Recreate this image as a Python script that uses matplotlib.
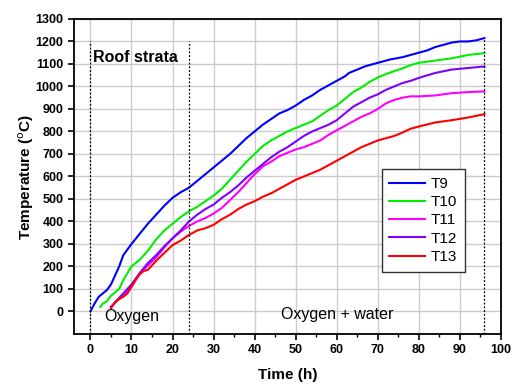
import matplotlib
matplotlib.use('Agg')
import matplotlib.pyplot as plt
from matplotlib.ticker import MultipleLocator

plt.rcParams['font.family'] = ['Liberation Sans', 'DejaVu Sans']

# T9
t9_x = [0, 1, 2, 3, 4, 5, 6, 7, 8, 9, 10, 12, 14, 16, 18, 20, 22, 24, 26, 28, 30,
        32, 34, 36, 38, 40, 42, 44, 46, 48, 50, 52, 54, 56, 58, 60, 62, 63, 65, 67,
        70, 73, 76, 78, 80, 82, 84, 86, 88, 90, 92, 94, 96]
t9_y = [0, 35, 65, 80, 95, 120, 160, 200, 250, 275, 300, 345, 390, 430, 470, 505,
        530, 550, 580, 610, 640, 670, 700, 735, 770, 800, 830, 855, 880, 895, 915,
        940, 960, 985, 1005, 1025, 1045, 1060, 1075, 1090, 1105, 1120, 1130, 1140,
        1150, 1160, 1175, 1185, 1195, 1200, 1200, 1205, 1215]

# T10
t10_x = [2.4, 3, 4, 5, 6, 7, 8, 9, 10, 11, 12, 14, 16, 18, 20, 22, 24, 26, 28, 30,
         32, 34, 36, 38, 40, 42, 44, 46, 48, 50, 52, 54, 56, 58, 60, 62, 64, 66, 68,
         70, 72, 74, 76, 78, 80, 84, 88, 92, 96]
t10_y = [20, 35, 45, 70, 85, 100, 140, 170, 200, 215, 230, 270, 320, 360, 390, 420,
         445, 465, 490, 515, 545, 585, 625, 665, 700, 735, 760, 780, 800, 815, 830,
         845, 870, 895, 915, 945, 975, 995, 1020, 1040, 1055, 1068, 1080, 1095, 1105,
         1115, 1125, 1140, 1148]

# T11
t11_x = [5, 6, 7, 8, 9, 10, 12, 14, 16, 18, 20, 22, 24, 26, 28, 30, 32, 34, 36, 38,
         40, 42, 44, 46, 48, 50, 52, 54, 56, 58, 60, 62, 64, 66, 68, 70, 72, 74, 76,
         78, 80, 84, 88, 92, 96]
t11_y = [20, 40, 60, 75, 90, 110, 170, 205, 240, 285, 325, 355, 380, 400, 415, 435,
         460, 495, 530, 570, 610, 645, 665, 690, 705, 720, 730, 745, 760, 785, 805,
         825, 845, 865, 880, 900, 925, 940, 950, 956, 956, 960, 970, 975, 978]

# T12
t12_x = [5, 6, 7, 8, 9, 10, 12, 14, 16, 18, 20, 22, 24, 26, 28, 30, 32, 34, 36, 38,
         40, 42, 44, 46, 48, 50, 52, 54, 56, 58, 60, 62, 64, 66, 68, 70, 72, 74, 76,
         78, 80, 84, 88, 92, 96]
t12_y = [20, 40, 60, 80, 100, 120, 170, 215, 250, 290, 325, 360, 400, 430, 455, 475,
         505, 530, 560, 595, 625, 655, 685, 710, 730, 755, 780, 800, 815, 830, 850,
         880, 910, 930, 950, 965, 985, 1000, 1015, 1025, 1038, 1060, 1075, 1082, 1089]

# T13
t13_x = [5, 6, 7, 8, 9, 10, 11, 12, 13, 14, 15, 16, 18, 20, 22, 24, 26, 28, 30, 32,
         34, 36, 38, 40, 42, 44, 46, 48, 50, 52, 54, 56, 58, 60, 62, 64, 66, 68, 70,
         72, 74, 76, 78, 80, 84, 88, 92, 96]
t13_y = [15, 40, 55, 65, 80, 110, 140, 165, 180, 185, 205, 225, 260, 295, 315, 340,
         360, 370, 385, 410, 430, 455, 475, 490, 510, 525, 545, 565, 585, 600, 615,
         630, 650, 670, 690, 710, 730, 745, 760, 770, 780, 795, 812, 822, 840, 850,
         862, 877]

series = [('T9', t9_x, t9_y, '#0000ff'),
          ('T10', t10_x, t10_y, '#00ee00'),
          ('T11', t11_x, t11_y, '#ff00ff'),
          ('T12', t12_x, t12_y, '#8000ff'),
          ('T13', t13_x, t13_y, '#ff0000')]

fig = plt.figure(figsize=(5.18, 3.87), dpi=100)
ax = fig.add_axes([0.1429, 0.137, 0.824, 0.814])

for name, xs, ys, c in series:
    ax.plot(xs, ys, color=c, lw=1.5, label=name)

# region separators
ax.plot([0, 0], [-100, 1200], color='black', ls=(0, (1.5, 1.5)), lw=0.9)
ax.plot([24, 24], [-100, 1200], color='black', ls=(0, (1.5, 1.5)), lw=0.9)
ax.plot([96, 96], [-100, 1215], color='black', ls=(0, (1.5, 1.5)), lw=0.9)

ax.text(0.6, 1130, 'Roof strata', fontsize=11.5, fontweight='bold', va='center')
ax.text(10, -22, 'Oxygen', fontsize=11.5, va='center', ha='center')
ax.text(60, -15, 'Oxygen + water', fontsize=11.5, va='center', ha='center')

ax.set_xlim(-4, 100)
ax.set_ylim(-100, 1300)
ax.xaxis.set_major_locator(MultipleLocator(10))
ax.xaxis.set_minor_locator(MultipleLocator(5))
ax.set_yticks(range(0, 1301, 100))
ax.grid(True, which='major', color='#cccccc', lw=1)
ax.set_axisbelow(True)
ax.tick_params(which='major', direction='out', length=4, width=1.2, labelsize=9)
ax.tick_params(which='minor', direction='out', length=2.5, width=1.0)
for lab in ax.get_xticklabels() + ax.get_yticklabels():
    lab.set_fontweight('bold')
for s in ax.spines.values():
    s.set_linewidth(1.3)

ax.set_xlabel('Time (h)', fontsize=11, fontweight='bold', labelpad=8)
ax.set_ylabel('Temperature ($^{\\mathrm{o}}$C)', fontsize=11, fontweight='bold',
              labelpad=0)

leg = ax.legend(loc='lower left', bbox_to_anchor=(0.721, 0.198), borderaxespad=0,
                fontsize=11, fancybox=False, edgecolor='#333333', framealpha=1,
                handlelength=2.3, labelspacing=0.28, borderpad=0.5, handletextpad=0.4)
leg.get_frame().set_linewidth(1.0)

fig.savefig('out.png', dpi=100)
